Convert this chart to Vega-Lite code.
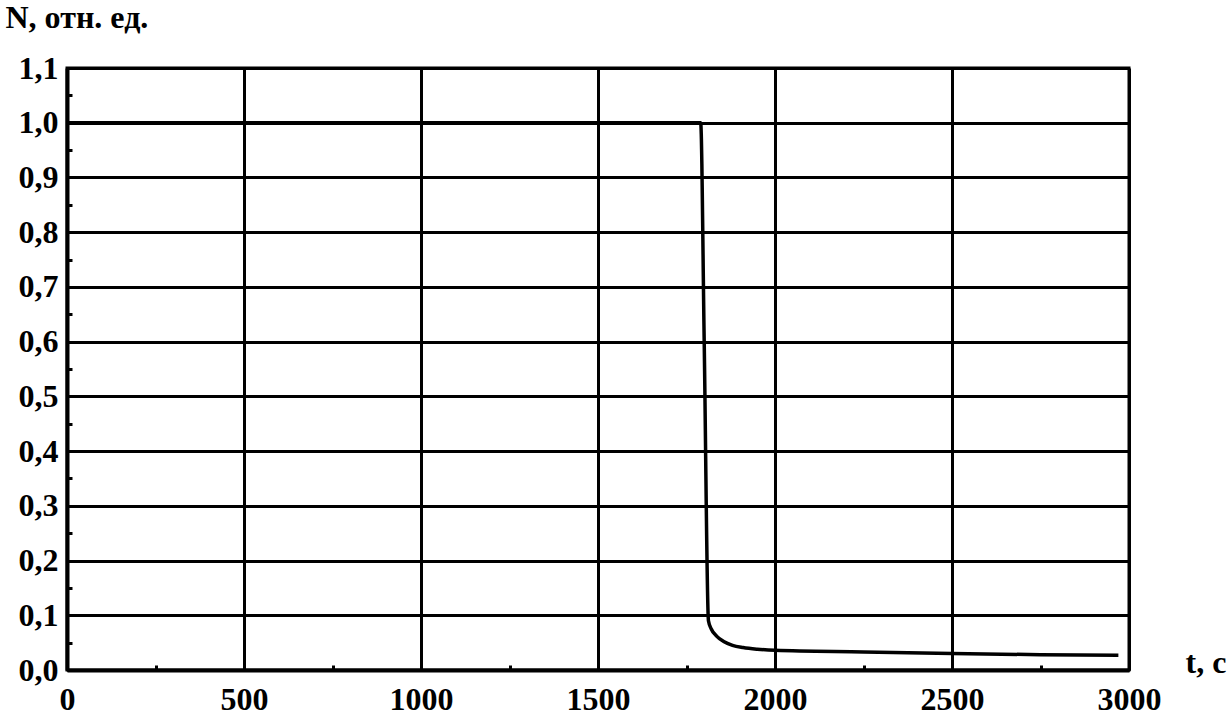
{
  "$schema": "https://vega.github.io/schema/vega-lite/v6.json",
  "autosize": "none",
  "width": 1062,
  "height": 602,
  "padding": {"left": 67, "top": 68, "right": 103, "bottom": 57},
  "background": "white",
  "config": {
    "view": {"stroke": "black", "strokeWidth": 3},
    "font": "Liberation Serif"
  },
  "data": {
    "values": [
      {"t": 0, "N": 1.0},
      {"t": 1790, "N": 1.0},
      {"t": 1800, "N": 0.6},
      {"t": 1812, "N": 0.09},
      {"t": 1820, "N": 0.075},
      {"t": 1835, "N": 0.062},
      {"t": 1855, "N": 0.052},
      {"t": 1880, "N": 0.045},
      {"t": 1910, "N": 0.041},
      {"t": 1950, "N": 0.038},
      {"t": 2000, "N": 0.036},
      {"t": 2250, "N": 0.033},
      {"t": 2500, "N": 0.030},
      {"t": 2750, "N": 0.028},
      {"t": 2970, "N": 0.027}
    ]
  },
  "mark": {"type": "line", "color": "black", "strokeWidth": 3.5, "interpolate": "monotone"},
  "encoding": {
    "x": {
      "field": "t", "type": "quantitative",
      "scale": {"domain": [0, 3000], "nice": false, "zero": false},
      "axis": {
        "values": [0, 250, 500, 750, 1000, 1250, 1500, 1750, 2000, 2250, 2500, 2750, 3000],
        "labelExpr": "datum.value % 500 === 0 ? format(datum.value, 'd') : ''",
        "grid": true,
        "gridColor": "black",
        "gridWidth": 3,
        "gridOpacity": {"condition": {"test": "datum.value % 500 === 0", "value": 1}, "value": 0},
        "domainColor": "black", "domainWidth": 4,
        "tickColor": "black", "tickWidth": 3, "tickSize": -5,
        "labelFont": "Liberation Serif", "labelFontWeight": "bold", "labelFontSize": 32,
        "labelColor": "black", "labelPadding": 19, "labelFlush": false,
        "title": "t, c",
        "titleFont": "Liberation Serif", "titleFontWeight": "bold", "titleFontSize": 32,
        "titleColor": "black",
        "titleX": 1118, "titleY": -8, "titleAlign": "left", "titleBaseline": "middle"
      }
    },
    "y": {
      "field": "N", "type": "quantitative",
      "scale": {"domain": [0, 1.1], "nice": false, "zero": false},
      "axis": {
        "values": [0, 0.05, 0.1, 0.15, 0.2, 0.25, 0.3, 0.35, 0.4, 0.45, 0.5, 0.55, 0.6, 0.65, 0.7, 0.75, 0.8, 0.85, 0.9, 0.95, 1.0, 1.05, 1.1],
        "labelExpr": "abs(datum.value*10 - round(datum.value*10)) < 0.01 ? replace(format(datum.value, '.1f'), '.', ',') : ''",
        "grid": true,
        "gridColor": "black",
        "gridWidth": 3,
        "gridOpacity": {"condition": {"test": "abs(datum.value*10 - round(datum.value*10)) < 0.01", "value": 1}, "value": 0},
        "domainColor": "black", "domainWidth": 4,
        "tickColor": "black", "tickWidth": 3, "tickSize": -5,
        "labelFont": "Liberation Serif", "labelFontWeight": "bold", "labelFontSize": 32,
        "labelColor": "black", "labelPadding": 14, "labelFlush": false,
        "title": "N, отн. ед.",
        "titleFont": "Liberation Serif", "titleFontWeight": "bold", "titleFontSize": 32,
        "titleColor": "black", "titleAngle": 0,
        "titleX": -62, "titleY": -51, "titleAlign": "left", "titleBaseline": "middle"
      }
    }
  }
}
